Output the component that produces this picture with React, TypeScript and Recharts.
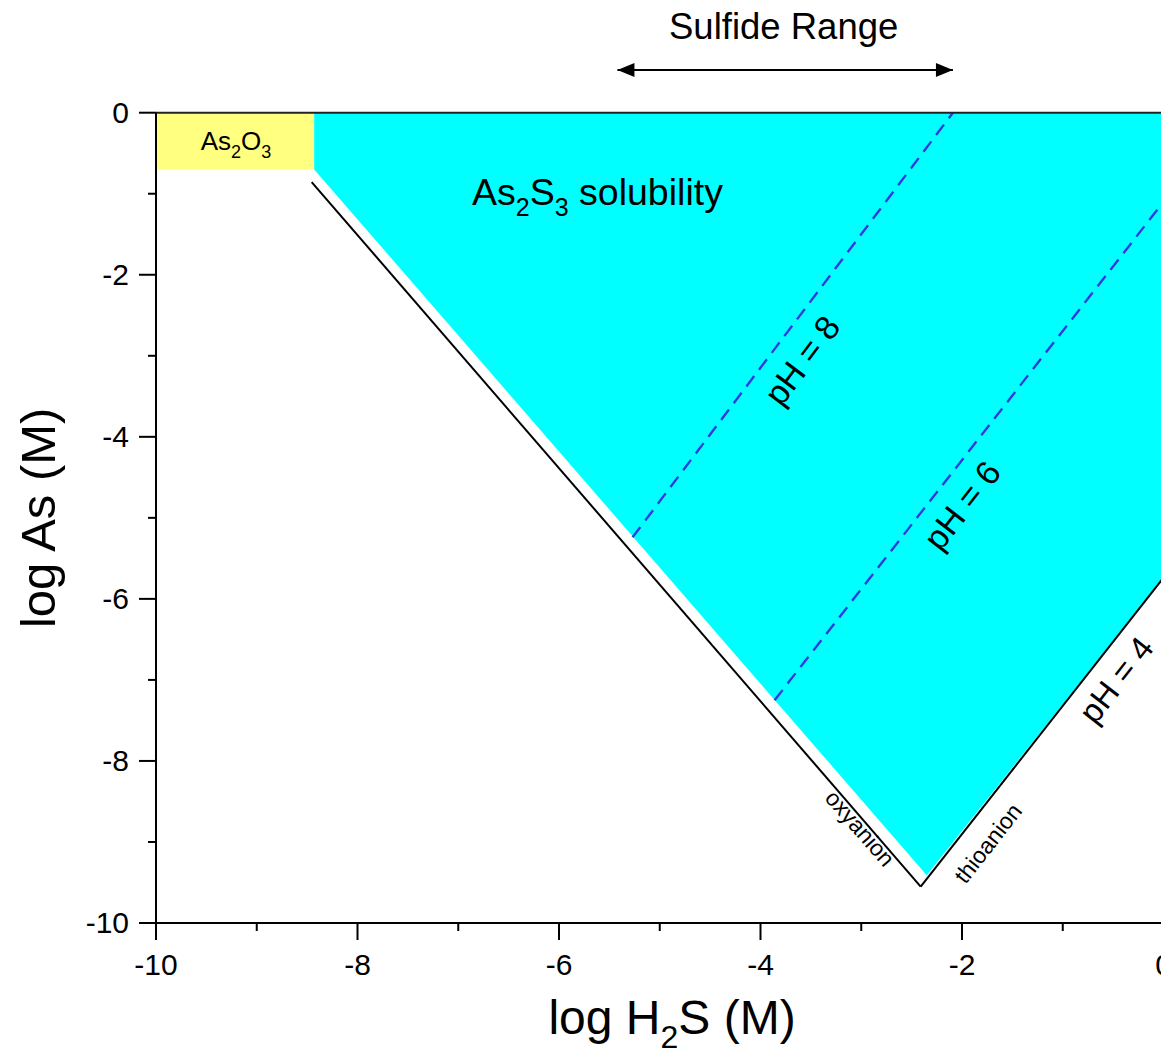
import { ComposedChart, Area, XAxis, YAxis, ReferenceArea, ReferenceLine, ReferenceDot } from "recharts";

const FONT = "'Liberation Sans', Arial, Helvetica, sans-serif";

// whole log units on both axes; labels only on the even ones
const xTicks = [-10, -9, -8, -7, -6, -5, -4, -3, -2, -1, 0];
const yTicks = [-10, -9, -8, -7, -6, -5, -4, -3, -2, -1, 0];

// As2S3 solubility field: upper/lower log As bounds at each log H2S
const solubilityH2S = [-8.43, -2.35, 0];
const solubilityUpper = [0, 0, 0];
const solubilityLower = [-0.7, -9.41, -5.74];

// As2O3 saturation box
const as2o3H2S = [-10, -8.43];
const as2o3As = [-0.7, 0];

// oxyanion / thioanion boundaries (pH = 4 on the thioanion side)
const oxyanionH2S = [-8.455, -2.41];
const oxyanionAs = [-0.856, -9.55];
const thioanionH2S = [-2.41, 0];
const thioanionAs = [-9.55, -5.74];

// pH isolines
const ph8H2S = [-5.27, -2.09];
const ph8As = [-5.24, 0];
const ph6H2S = [-3.86, 0];
const ph6As = [-7.25, -1.1];

// typical sulfide range of natural waters
const sulfideRangeH2S = [-5.42, -2.09];
const sulfideRangeAs = 0.527;

const chartData = solubilityH2S.map((h, i) => ({
  h2s: h,
  band: [solubilityLower[i], solubilityUpper[i]],
}));

function XTick(props: any) {
  const { x, y, payload } = props;
  const v = payload.value;
  const major = v % 2 === 0;
  return (
    <g>
      <line x1={x} y1={y} x2={x} y2={y + (major ? 17 : 8)} stroke="#000" strokeWidth={2} />
      {major && (
        <text x={x} y={y + 52} textAnchor="middle" fontSize={30} fill="#000" fontFamily={FONT}>
          {v}
        </text>
      )}
    </g>
  );
}

function YTick(props: any) {
  const { x, y, payload } = props;
  const v = payload.value;
  const major = v % 2 === 0;
  return (
    <g>
      <line x1={x - (major ? 17 : 8)} y1={y} x2={x} y2={y} stroke="#000" strokeWidth={2} />
      {major && (
        <text x={x - 27} y={y + 10} textAnchor="end" fontSize={30} fill="#000" fontFamily={FONT}>
          {v}
        </text>
      )}
    </g>
  );
}

// rotated text centred on a data point
const tiltedText = (text: string, angle: number, size: number) => (p: any) => (
  <text
    x={p.cx}
    y={p.cy}
    textAnchor="middle"
    dominantBaseline="central"
    fontSize={size}
    fontFamily={FONT}
    fill="#000"
    transform={`rotate(${angle} ${p.cx} ${p.cy})`}
  >
    {text}
  </text>
);

const arrowHead = (dir: 1 | -1) => (p: any) => (
  <polygon
    points={`${p.cx},${p.cy} ${p.cx + dir * 17},${p.cy - 7} ${p.cx + dir * 17},${p.cy + 7}`}
    fill="#000"
  />
);

export default function App() {
  return (
    <div style={{ position: "fixed", left: 0, top: 0, width: 1161, height: 1062, overflow: "hidden", background: "#fff" }}>
      <ComposedChart
        width={1200}
        height={1062}
        data={chartData}
        margin={{ top: 112.7, right: 36.5, bottom: 79, left: 0 }}
      >
        <XAxis
          dataKey="h2s"
          type="number"
          domain={[-10, 0]}
          ticks={xTicks}
          interval={0}
          allowDataOverflow
          height={60}
          tickSize={0}
          tickMargin={0}
          tickLine={false}
          axisLine={{ stroke: "#000", strokeWidth: 2 }}
          tick={(p: any) => <XTick {...p} />}
        />
        <YAxis
          type="number"
          domain={[-10, 0]}
          ticks={yTicks}
          interval={0}
          allowDataOverflow
          width={156}
          tickSize={0}
          tickMargin={0}
          tickLine={false}
          axisLine={{ stroke: "#000", strokeWidth: 2 }}
          tick={(p: any) => <YTick {...p} />}
        />

        <ReferenceArea
          x1={as2o3H2S[0]}
          x2={as2o3H2S[1]}
          y1={as2o3As[0]}
          y2={as2o3As[1]}
          fill="#FFFF80"
          fillOpacity={1}
          stroke="none"
        />
        <Area
          dataKey="band"
          type="linear"
          fill="#00FFFF"
          fillOpacity={1}
          stroke="none"
          isAnimationActive={false}
          activeDot={false}
        />

        <ReferenceLine
          segment={[{ x: oxyanionH2S[0], y: oxyanionAs[0] }, { x: oxyanionH2S[1], y: oxyanionAs[1] }]}
          stroke="#000"
          strokeWidth={2}
        />
        <ReferenceLine
          segment={[{ x: thioanionH2S[0], y: thioanionAs[0] }, { x: thioanionH2S[1], y: thioanionAs[1] }]}
          stroke="#000"
          strokeWidth={2}
        />
        <ReferenceLine
          segment={[{ x: ph8H2S[0], y: ph8As[0] }, { x: ph8H2S[1], y: ph8As[1] }]}
          stroke="#2C3CE0"
          strokeWidth={2.4}
          strokeDasharray="13 8"
        />
        <ReferenceLine
          segment={[{ x: ph6H2S[0], y: ph6As[0] }, { x: ph6H2S[1], y: ph6As[1] }]}
          stroke="#2C3CE0"
          strokeWidth={2.4}
          strokeDasharray="13 8"
        />

        {/* frame */}
        <ReferenceLine y={0} stroke="#222" strokeWidth={2} />
        <ReferenceLine x={0} stroke="#222" strokeWidth={2} />

        {/* sulfide range arrow */}
        <ReferenceLine
          segment={[{ x: sulfideRangeH2S[0], y: sulfideRangeAs }, { x: sulfideRangeH2S[1], y: sulfideRangeAs }]}
          stroke="#000"
          strokeWidth={2}
          ifOverflow="visible"
        />
        <ReferenceDot x={sulfideRangeH2S[0]} y={sulfideRangeAs} ifOverflow="visible" shape={arrowHead(1)} />
        <ReferenceDot x={sulfideRangeH2S[1]} y={sulfideRangeAs} ifOverflow="visible" shape={arrowHead(-1)} />
        <ReferenceDot x={-3.77} y={1.06} ifOverflow="visible" shape={tiltedText("Sulfide Range", 0, 36.5)} />

        {/* field labels */}
        <ReferenceDot
          x={-9.206}
          y={-0.46}
          ifOverflow="visible"
          shape={(p: any) => (
            <text x={p.cx} y={p.cy} textAnchor="middle" fontSize={26} fontFamily={FONT} fill="#000">
              As<tspan dy={8} fontSize={18}>2</tspan>
              <tspan dy={-8}>O</tspan>
              <tspan dy={8} fontSize={18}>3</tspan>
            </text>
          )}
        />
        <ReferenceDot
          x={-5.618}
          y={-1.14}
          ifOverflow="visible"
          shape={(p: any) => (
            <text x={p.cx} y={p.cy} textAnchor="middle" fontSize={37.5} fontFamily={FONT} fill="#000">
              As<tspan dy={11} fontSize={25}>2</tspan>
              <tspan dy={-11}>S</tspan>
              <tspan dy={11} fontSize={25}>3</tspan>
              <tspan dy={-11}> solubility</tspan>
            </text>
          )}
        />
        <ReferenceDot x={-3.588} y={-3.055} ifOverflow="visible" shape={tiltedText("pH = 8", -53, 34)} />
        <ReferenceDot x={-2.0} y={-4.845} ifOverflow="visible" shape={tiltedText("pH = 6", -52, 34)} />
        <ReferenceDot x={-0.47} y={-7.0} ifOverflow="visible" shape={tiltedText("pH = 4", -52, 33)} />
        <ReferenceDot x={-3.012} y={-8.83} ifOverflow="visible" shape={tiltedText("oxyanion", 49, 23)} />
        <ReferenceDot x={-1.742} y={-9.016} ifOverflow="visible" shape={tiltedText("thioanion", -52, 23)} />

        {/* axis titles */}
        <ReferenceDot
          x={-4.878}
          y={-11.374}
          ifOverflow="visible"
          shape={(p: any) => (
            <text x={p.cx} y={p.cy} textAnchor="middle" fontSize={48} fontFamily={FONT} fill="#000">
              log H<tspan dy={14} fontSize={32}>2</tspan>
              <tspan dy={-14}>S (M)</tspan>
            </text>
          )}
        />
        <ReferenceDot x={-11.171} y={-5.0} ifOverflow="visible" shape={tiltedText("log As (M)", -90, 49)} />
      </ComposedChart>
    </div>
  );
}
